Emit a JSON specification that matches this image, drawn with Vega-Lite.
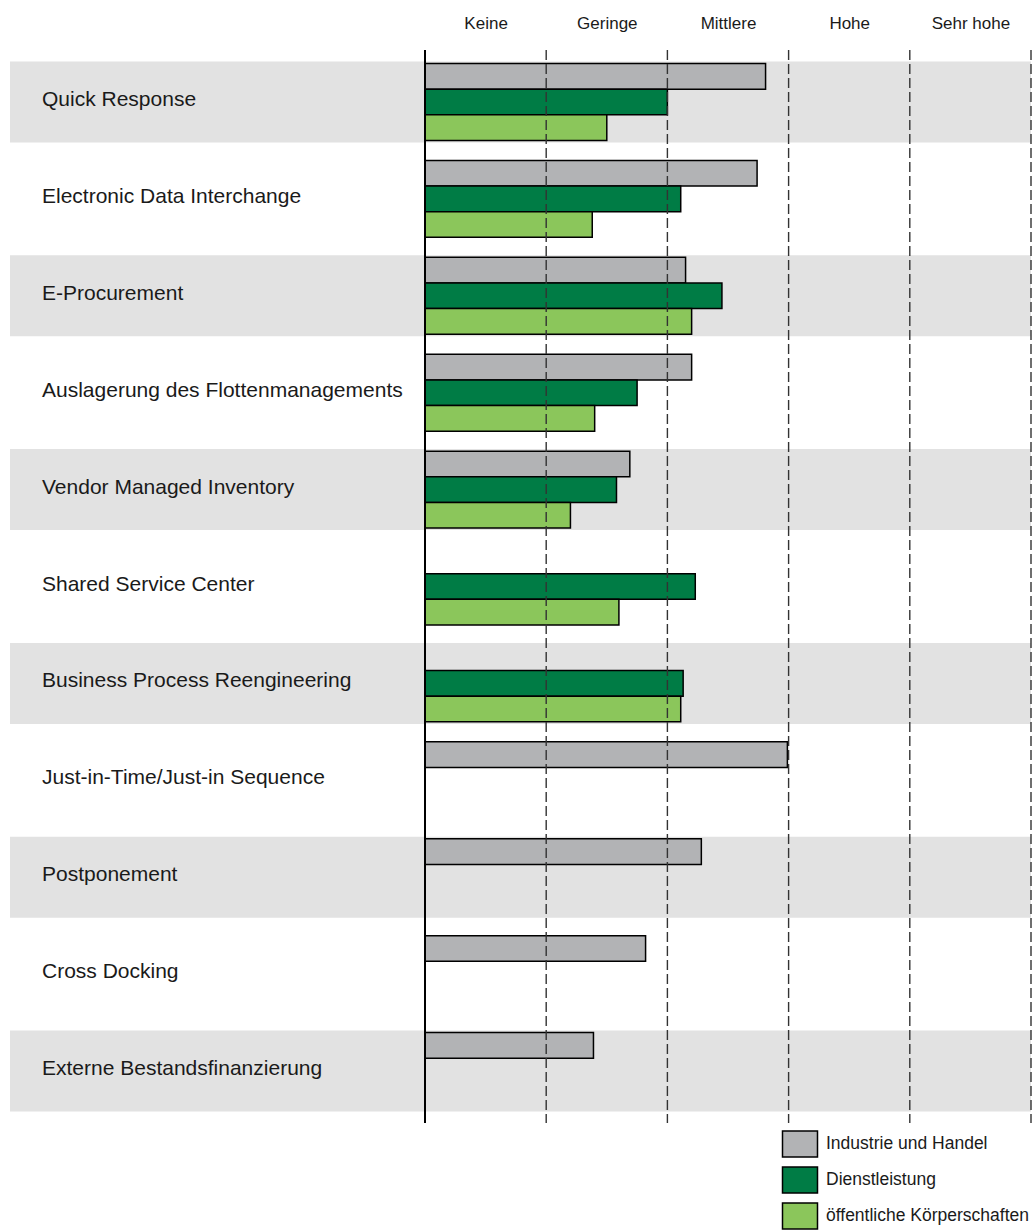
{
  "$schema": "https://vega.github.io/schema/vega-lite/v6.json",
  "width": 1021,
  "height": 1073,
  "autosize": {"type": "none"},
  "padding": {"left": 10, "top": 50, "right": 1, "bottom": 108},
  "config": {
    "view": {"stroke": null},
    "font": "Liberation Sans"
  },
  "datasets": {
    "werte": [
      {"Maßnahme": "Quick Response", "Gruppe": "Industrie und Handel", "Wert": 2.81},
      {"Maßnahme": "Quick Response", "Gruppe": "Dienstleistung", "Wert": 2.0},
      {"Maßnahme": "Quick Response", "Gruppe": "öffentliche Körperschaften", "Wert": 1.5},
      {"Maßnahme": "Electronic Data Interchange", "Gruppe": "Industrie und Handel", "Wert": 2.74},
      {"Maßnahme": "Electronic Data Interchange", "Gruppe": "Dienstleistung", "Wert": 2.11},
      {"Maßnahme": "Electronic Data Interchange", "Gruppe": "öffentliche Körperschaften", "Wert": 1.38},
      {"Maßnahme": "E-Procurement", "Gruppe": "Industrie und Handel", "Wert": 2.15},
      {"Maßnahme": "E-Procurement", "Gruppe": "Dienstleistung", "Wert": 2.45},
      {"Maßnahme": "E-Procurement", "Gruppe": "öffentliche Körperschaften", "Wert": 2.2},
      {"Maßnahme": "Auslagerung des Flottenmanagements", "Gruppe": "Industrie und Handel", "Wert": 2.2},
      {"Maßnahme": "Auslagerung des Flottenmanagements", "Gruppe": "Dienstleistung", "Wert": 1.75},
      {"Maßnahme": "Auslagerung des Flottenmanagements", "Gruppe": "öffentliche Körperschaften", "Wert": 1.4},
      {"Maßnahme": "Vendor Managed Inventory", "Gruppe": "Industrie und Handel", "Wert": 1.69},
      {"Maßnahme": "Vendor Managed Inventory", "Gruppe": "Dienstleistung", "Wert": 1.58},
      {"Maßnahme": "Vendor Managed Inventory", "Gruppe": "öffentliche Körperschaften", "Wert": 1.2},
      {"Maßnahme": "Shared Service Center", "Gruppe": "Dienstleistung", "Wert": 2.23},
      {"Maßnahme": "Shared Service Center", "Gruppe": "öffentliche Körperschaften", "Wert": 1.6},
      {"Maßnahme": "Business Process Reengineering", "Gruppe": "Dienstleistung", "Wert": 2.13},
      {"Maßnahme": "Business Process Reengineering", "Gruppe": "öffentliche Körperschaften", "Wert": 2.11},
      {"Maßnahme": "Just-in-Time/Just-in Sequence", "Gruppe": "Industrie und Handel", "Wert": 2.99},
      {"Maßnahme": "Postponement", "Gruppe": "Industrie und Handel", "Wert": 2.28},
      {"Maßnahme": "Cross Docking", "Gruppe": "Industrie und Handel", "Wert": 1.82},
      {"Maßnahme": "Externe Bestandsfinanzierung", "Gruppe": "Industrie und Handel", "Wert": 1.39}
    ],
    "zeilen": [
      {"Maßnahme": "Quick Response"},
      {"Maßnahme": "Electronic Data Interchange"},
      {"Maßnahme": "E-Procurement"},
      {"Maßnahme": "Auslagerung des Flottenmanagements"},
      {"Maßnahme": "Vendor Managed Inventory"},
      {"Maßnahme": "Shared Service Center"},
      {"Maßnahme": "Business Process Reengineering"},
      {"Maßnahme": "Just-in-Time/Just-in Sequence"},
      {"Maßnahme": "Postponement"},
      {"Maßnahme": "Cross Docking"},
      {"Maßnahme": "Externe Bestandsfinanzierung"}
    ],
    "baender": [
      {"Maßnahme": "Quick Response"},
      {"Maßnahme": "E-Procurement"},
      {"Maßnahme": "Vendor Managed Inventory"},
      {"Maßnahme": "Business Process Reengineering"},
      {"Maßnahme": "Postponement"},
      {"Maßnahme": "Externe Bestandsfinanzierung"}
    ],
    "linien": [
      {"Stufe": 1}, {"Stufe": 2}, {"Stufe": 3}, {"Stufe": 4}, {"Stufe": 5}
    ]
  },
  "layer": [
    {
      "data": {"name": "baender"},
      "mark": {"type": "rect", "color": "#e2e2e2"},
      "encoding": {
        "y": {"field": "Maßnahme", "type": "nominal", "axis": null},
        "x": {
          "datum": -3.424,
          "type": "quantitative",
          "axis": {
            "orient": "top",
            "values": [0.5, 1.5, 2.5, 3.5, 4.5],
            "labelExpr": "['Keine','Geringe','Mittlere','Hohe','Sehr hohe'][floor(datum.value)]",
            "ticks": false,
            "tickSize": 0,
            "domain": false,
            "grid": false,
            "labelPadding": 18,
            "labelFontSize": 17,
            "labelFont": "Liberation Sans",
            "labelColor": "#1a1a1a",
            "labelFlush": false,
            "labelOverlap": false,
            "title": null
          }
        },
        "x2": {"datum": 5}
      }
    },
    {
      "data": {"name": "werte"},
      "mark": {"type": "bar", "stroke": "black", "strokeWidth": 1.5},
      "encoding": {
        "y": {
          "field": "Maßnahme",
          "type": "nominal",
          "scale": {
            "domain": ["Quick Response", "Electronic Data Interchange", "E-Procurement", "Auslagerung des Flottenmanagements", "Vendor Managed Inventory", "Shared Service Center", "Business Process Reengineering", "Just-in-Time/Just-in Sequence", "Postponement", "Cross Docking", "Externe Bestandsfinanzierung"],
            "paddingInner": 0.164,
            "paddingOuter": 0.1185
          },
          "axis": null
        },
        "yOffset": {
          "field": "Gruppe",
          "type": "nominal",
          "scale": {
            "domain": ["Industrie und Handel", "Dienstleistung", "öffentliche Körperschaften"],
            "paddingInner": 0,
            "paddingOuter": 0.08
          }
        },
        "x": {
          "field": "Wert",
          "type": "quantitative",
          "scale": {"domain": [-3.424, 5], "nice": false, "zero": false},
          "axis": {
            "orient": "top",
            "values": [0.5, 1.5, 2.5, 3.5, 4.5],
            "labelExpr": "['Keine','Geringe','Mittlere','Hohe','Sehr hohe'][floor(datum.value)]",
            "ticks": false,
            "tickSize": 0,
            "domain": false,
            "grid": false,
            "labelPadding": 18,
            "labelFontSize": 17,
            "labelFont": "Liberation Sans",
            "labelColor": "#1a1a1a",
            "labelFlush": false,
            "labelOverlap": false,
            "title": null
          }
        },
        "x2": {"datum": 0},
        "color": {
          "field": "Gruppe",
          "type": "nominal",
          "scale": {
            "domain": ["Industrie und Handel", "Dienstleistung", "öffentliche Körperschaften"],
            "range": ["#b2b3b5", "#007c45", "#8bc65b"]
          },
          "legend": {
            "orient": "none",
            "legendX": 776,
            "legendY": 1080,
            "title": null,
            "padding": 0,
            "symbolType": "M-1.346,-1H1.346V1H-1.346Z",
            "symbolSize": 676,
            "symbolStrokeColor": "black",
            "symbolStrokeWidth": 1.5,
            "symbolOpacity": 1,
            "labelFontSize": 17.5,
            "labelFont": "Liberation Sans",
            "labelColor": "#1a1a1a",
            "labelOffset": 12,
            "rowPadding": 4,
            "labelLimit": 400
          }
        }
      }
    },
    {
      "data": {"name": "linien"},
      "mark": {"type": "rule", "strokeDash": [10, 4], "color": "#333333", "strokeWidth": 1.4},
      "encoding": {
        "x": {
          "field": "Stufe",
          "type": "quantitative",
          "axis": {
            "orient": "top",
            "values": [0.5, 1.5, 2.5, 3.5, 4.5],
            "labelExpr": "['Keine','Geringe','Mittlere','Hohe','Sehr hohe'][floor(datum.value)]",
            "ticks": false,
            "tickSize": 0,
            "domain": false,
            "grid": false,
            "labelPadding": 18,
            "labelFontSize": 17,
            "labelFont": "Liberation Sans",
            "labelColor": "#1a1a1a",
            "labelFlush": false,
            "labelOverlap": false,
            "title": null
          }
        }
      }
    },
    {
      "data": {"name": "zeilen"},
      "mark": {"type": "rule", "color": "black", "strokeWidth": 1.5},
      "encoding": {
        "x": {
          "datum": 0,
          "type": "quantitative",
          "axis": {
            "orient": "top",
            "values": [0.5, 1.5, 2.5, 3.5, 4.5],
            "labelExpr": "['Keine','Geringe','Mittlere','Hohe','Sehr hohe'][floor(datum.value)]",
            "ticks": false,
            "tickSize": 0,
            "domain": false,
            "grid": false,
            "labelPadding": 18,
            "labelFontSize": 17,
            "labelFont": "Liberation Sans",
            "labelColor": "#1a1a1a",
            "labelFlush": false,
            "labelOverlap": false,
            "title": null
          }
        }
      }
    },
    {
      "data": {"name": "zeilen"},
      "mark": {"type": "text", "align": "left", "baseline": "middle", "fontSize": 21, "font": "Liberation Sans", "color": "#1a1a1a", "dy": -2},
      "encoding": {
        "y": {"field": "Maßnahme", "type": "nominal", "axis": null},
        "x": {
          "datum": -3.16,
          "type": "quantitative",
          "axis": {
            "orient": "top",
            "values": [0.5, 1.5, 2.5, 3.5, 4.5],
            "labelExpr": "['Keine','Geringe','Mittlere','Hohe','Sehr hohe'][floor(datum.value)]",
            "ticks": false,
            "tickSize": 0,
            "domain": false,
            "grid": false,
            "labelPadding": 18,
            "labelFontSize": 17,
            "labelFont": "Liberation Sans",
            "labelColor": "#1a1a1a",
            "labelFlush": false,
            "labelOverlap": false,
            "title": null
          }
        },
        "text": {"field": "Maßnahme"}
      }
    }
  ]
}
